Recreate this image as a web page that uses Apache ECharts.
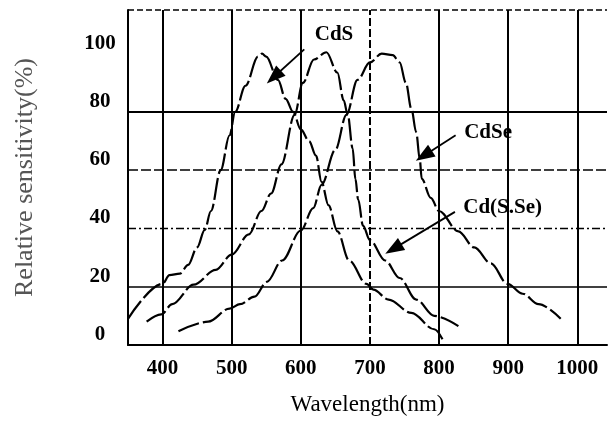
<!DOCTYPE html>
<html>
<head>
<meta charset="utf-8">
<title>Relative sensitivity</title>
<script src="https://cdn.jsdelivr.net/npm/echarts@6/dist/echarts.min.js"></script>
<style>
    html, body { margin: 0; padding: 0; background: #fff; }
    #chart { width: 610px; height: 421px; }
</style>
</head>
<body>
<div id="chart"></div>
<script>
// 读图得到的数据 (wavelength nm / relative sensitivity %)
var cdsWave = [350, 400, 410, 425, 437, 450, 461, 470, 484, 497, 505, 520, 538, 544, 550, 567, 578, 589, 600, 612, 622, 630, 640, 653, 670, 695, 705, 727, 760, 793, 805];
var cdsValue = [9, 21, 24, 24.5, 27.5, 33.5, 39.5, 46, 60, 72, 80, 89, 99, 100, 99, 91, 84.5, 80, 74, 70, 65, 56, 48, 39, 29, 21, 19, 15.6, 11, 5.4, 2];

var cdsseWave = [377, 398, 414, 445, 477, 500, 525, 543, 557, 572, 591, 603, 619, 637, 653, 662, 668, 675, 679, 683, 690, 700, 722, 743, 767, 793, 828];
var cdsseValue = [8, 10.5, 14, 20.7, 25.8, 31, 38, 46, 52, 62, 79, 90, 98, 100.5, 93.5, 84, 79, 67.5, 57, 50, 41, 36, 29, 23, 15.6, 10, 6.5];

var cdseWave = [423, 466, 497, 512, 533, 551, 573, 600, 618, 630, 650, 666, 682, 700, 717, 733, 743, 752, 760, 767, 772, 775, 788, 800, 828, 851, 875, 899, 921, 944, 976];
var cdseValue = [4.7, 8, 12.5, 14, 16.6, 21.7, 29, 39.3, 47, 55, 67, 79, 91, 97, 100, 99.5, 97, 90, 81, 73, 64, 57, 50.5, 46, 39, 33.5, 28, 21, 17.6, 14, 9];

var xGridTicks = [400, 500, 600, 700, 800, 900, 1000];
var yGridTicks = [20, 40, 60, 80];

// 标注: 文字位置 / 箭头起点 / 箭头终点
var cdsNote = [[648, 106.5], [605, 101.5], [561, 92]];
var cdseNote = [[871, 73], [824, 72], [778, 65]];
var cdsseNote = [[892, 47.3], [823, 45.7], [734, 33]];

var serif = 'Liberation Serif';

function pairs(xs, ys) {
    return xs.map(function (x, i) { return [x, ys[i]]; });
}

function gridLines() {
    var lines = [];
    xGridTicks.forEach(function (v) {
        lines.push({
            xAxis: v,
            lineStyle: { color: '#000', width: 2, type: v === 700 ? [8, 3] : 'solid' }
        });
    });
    yGridTicks.forEach(function (v) {
        var t = 'solid', w = 2;
        if (v === 60) { t = [10, 3]; w = 1.6; }
        if (v === 40) { t = [8, 3, 2, 3]; w = 1.3; }
        if (v === 20) { w = 1.6; }
        lines.push({ yAxis: v, lineStyle: { color: '#000', width: w, type: t } });
    });
    // 顶部虚线边框
    lines.push({ yAxis: 115, lineStyle: { color: '#000', width: 1.5, type: [6, 3] } });
    return lines;
}

function note(name, pos) {
    return {
        markLine: {
            silent: true,
            symbol: ['none', 'triangle'],
            symbolSize: [14, 19],
            label: { show: false },
            lineStyle: { color: '#000', width: 1.8, type: 'solid' },
            data: [[{ coord: pos[1] }, { coord: pos[2] }]]
        },
        markPoint: {
            silent: true,
            symbol: 'circle',
            symbolSize: 0,
            label: {
                show: true,
                position: 'inside',
                formatter: '{b}',
                color: '#000',
                fontFamily: serif,
                fontWeight: 'bold',
                fontSize: 21
            },
            data: [{ name: name, coord: pos[0] }]
        }
    };
}

function curve(name, wave, value, pos) {
    var s = {
        name: name,
        type: 'line',
        data: pairs(wave, value),
        showSymbol: false,
        smooth: 0.35,
        smoothMonotone: 'x',
        lineStyle: { color: '#000', width: 2.2, type: [22, 4] }
    };
    var n = note(name, pos);
    s.markLine = n.markLine;
    s.markPoint = n.markPoint;
    return s;
}

function SensitivityChart() {
    var chart = echarts.init(document.getElementById('chart'));

    chart.setOption({
        animation: false,
        backgroundColor: '#fff',
        grid: { left: 128, right: 0, top: 10, bottom: 71 },
        xAxis: {
            type: 'value',
            min: 350,
            max: 1043,
            interval: 50,
            name: 'Wavelength(nm)',
            nameLocation: 'middle',
            nameGap: 48,
            nameTextStyle: { color: '#000', fontFamily: serif, fontSize: 23 },
            axisLine: { show: true, lineStyle: { color: '#000', width: 2 } },
            axisTick: { show: false },
            splitLine: { show: false },
            axisLabel: {
                color: '#000',
                fontFamily: serif,
                fontWeight: 'bold',
                fontSize: 21,
                margin: 13,
                formatter: function (v) { return v % 100 === 0 ? v : ''; }
            }
        },
        yAxis: {
            type: 'value',
            min: 0,
            max: 115,
            interval: 20,
            name: 'Relative sensitivity(%)',
            nameLocation: 'middle',
            nameGap: 90,
            nameRotate: 90,
            nameTextStyle: { color: '#555', fontFamily: serif, fontSize: 26 },
            axisLine: { show: true, lineStyle: { color: '#000', width: 2 } },
            axisTick: { show: false },
            splitLine: { show: false },
            axisLabel: {
                color: '#000',
                fontFamily: serif,
                fontWeight: 'bold',
                fontSize: 21,
                margin: 28,
                align: 'center',
                verticalAlign: 'bottom',
                formatter: function (v) { return v <= 100 ? v : ''; }
            }
        },
        series: [
            {
                name: 'grid',
                type: 'line',
                data: [],
                markLine: {
                    silent: true,
                    symbol: 'none',
                    label: { show: false },
                    data: gridLines()
                }
            },
            curve('CdS', cdsWave, cdsValue, cdsNote),
            curve('Cd(S.Se)', cdsseWave, cdsseValue, cdsseNote),
            curve('CdSe', cdseWave, cdseValue, cdseNote)
        ]
    });
}

SensitivityChart();
</script>
</body>
</html>
